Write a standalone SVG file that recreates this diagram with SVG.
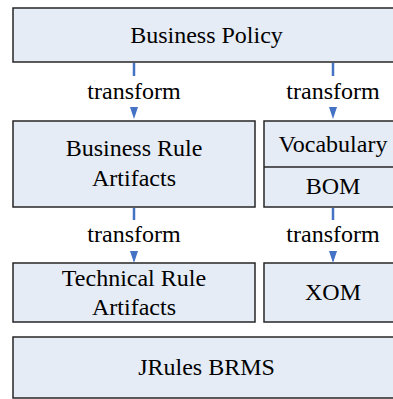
<svg xmlns="http://www.w3.org/2000/svg" width="393" height="399" viewBox="0 0 393 399">
<defs>
<style>
.box{fill:#E6ECF6;stroke:#262626;stroke-width:1.5}
.div{stroke:#262626;stroke-width:1.5}
.c{stroke:#4472C4;stroke-width:2.5;fill:none}
.ah{fill:#4472C4}
.t{font-family:'Liberation Serif','Times New Roman',serif;font-size:24px;fill:#000;text-anchor:middle}
</style>
</defs>
<rect width="393" height="399" fill="#fff"/>
<g id="business-policy"><rect class="box" x="13" y="8" width="388" height="54"/><text class="t" x="206.5" y="43">Business Policy</text></g>
<g id="business-rule-artifacts"><rect class="box" x="13" y="121" width="242" height="86"/><text class="t" x="134" y="156">Business Rule</text><text class="t" x="134" y="186">Artifacts</text></g>
<g id="vocabulary-bom"><rect class="box" x="264" y="121" width="138" height="86"/><line class="div" x1="264" y1="167" x2="402" y2="167"/><text class="t" x="333" y="152">Vocabulary</text><text class="t" x="333" y="194">BOM</text></g>
<g id="technical-rule-artifacts"><rect class="box" x="13" y="263" width="242" height="59"/><text class="t" x="134" y="286">Technical Rule</text><text class="t" x="134" y="315">Artifacts</text></g>
<g id="xom"><rect class="box" x="264" y="263" width="138" height="59"/><text class="t" x="333" y="300">XOM</text></g>
<g id="jrules-brms"><rect class="box" x="13" y="337" width="388" height="61"/><text class="t" x="206.5" y="375">JRules BRMS</text></g>
<g id="connectors">
<line class="c" x1="134" y1="63" x2="134" y2="76"/><polygon class="ah" points="130,107 138,107 134,119"/><text class="t" x="134" y="99">transform</text>
<line class="c" x1="333" y1="63" x2="333" y2="76"/><polygon class="ah" points="329,107 337,107 333,119"/><text class="t" x="333" y="99">transform</text>
<line class="c" x1="134" y1="208" x2="134" y2="220"/><polygon class="ah" points="130,251 138,251 134,263"/><text class="t" x="134" y="242">transform</text>
<line class="c" x1="333" y1="208" x2="333" y2="220"/><polygon class="ah" points="329,251 337,251 333,263"/><text class="t" x="333" y="242">transform</text>
</g>
</svg>
